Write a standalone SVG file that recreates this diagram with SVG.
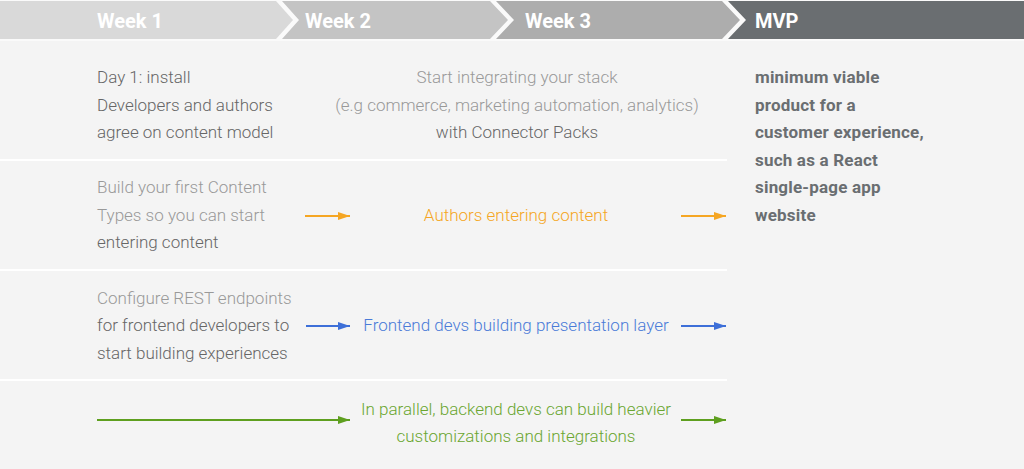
<svg xmlns="http://www.w3.org/2000/svg" width="1024" height="469" viewBox="0 0 1024 469">
<defs>
<style>
.hd{font-family:Roboto,"Liberation Sans",sans-serif;font-size:20px;font-weight:700;fill:#ffffff}
.t{font-family:Roboto,"Liberation Sans",sans-serif;font-size:17px;font-weight:300}
.dk{fill:#666666}
.lt{fill:#999999}
.mid{text-anchor:middle}
.mvp{font-family:Roboto,"Liberation Sans",sans-serif;font-size:17px;font-weight:700;fill:#6a6e71;letter-spacing:0.2px}
.sep{stroke:#ffffff;stroke-width:2}
.or{stroke:#f5a623;stroke-width:2;fill:none}
.bl{stroke:#3d6fd8;stroke-width:2;fill:none}
.gr{stroke:#5e9f1f;stroke-width:2;fill:none}
</style>
<marker id="ao" viewBox="0 0 12 8" refX="12" refY="4" markerWidth="12" markerHeight="8" markerUnits="userSpaceOnUse" orient="auto"><path d="M0,0 L12,4 L0,8 Z" fill="#f5a623"/></marker>
<marker id="ab" viewBox="0 0 12 8" refX="12" refY="4" markerWidth="12" markerHeight="8" markerUnits="userSpaceOnUse" orient="auto"><path d="M0,0 L12,4 L0,8 Z" fill="#3d6fd8"/></marker>
<marker id="ag" viewBox="0 0 12 8" refX="12" refY="4" markerWidth="12" markerHeight="8" markerUnits="userSpaceOnUse" orient="auto"><path d="M0,0 L12,4 L0,8 Z" fill="#5e9f1f"/></marker>
</defs>
<rect x="0" y="0" width="1024" height="469" fill="#f4f4f4"/>
<rect x="0" y="0" width="1024" height="41" fill="#fafafa"/>
<g id="header">
<g id="week1"><polygon points="0,1 276,1 293,20 276,39 0,39" fill="#d9d9d9"/><text class="hd" x="130" y="28" text-anchor="middle">Week 1</text></g>
<g id="week2"><polygon points="282,1 490,1 508,20 490,39 282,39 299,20" fill="#c4c4c4"/><text class="hd" x="305" y="28">Week 2</text></g>
<g id="week3"><polygon points="496,1 722,1 740,20 722,39 496,39 514,20" fill="#adadad"/><text class="hd" x="525" y="28">Week 3</text></g>
<g id="mvp"><polygon points="728,1 1024,1 1024,39 728,39 746,20" fill="#6a6e71"/><text class="hd" x="755" y="28">MVP</text></g>
</g>
<g id="separators">
<line class="sep" x1="0" y1="160" x2="727" y2="160"/>
<line class="sep" x1="0" y1="270" x2="727" y2="270"/>
<line class="sep" x1="0" y1="380" x2="727" y2="380"/>
</g>
<g id="row1-left">
<text class="t dk" x="97" y="83">Day 1: install</text>
<text class="t dk" x="97" y="111">Developers and authors</text>
<text class="t dk" x="97" y="138">agree on content model</text>
</g>
<g id="row1-right">
<text class="t lt mid" x="517" y="83">Start integrating your stack</text>
<text class="t lt mid" x="517" y="111">(e.g commerce, marketing automation, analytics)</text>
<text class="t dk mid" x="517" y="138">with Connector Packs</text>
</g>
<g id="row2-left">
<text class="t lt" x="97" y="193">Build your first Content</text>
<text class="t lt" x="97" y="221">Types so you can start</text>
<text class="t dk" x="97" y="248">entering content</text>
</g>
<g id="row2-right">
<text class="t mid" x="516" y="221" fill="#f5a623">Authors entering content</text>
</g>
<g id="row3-left">
<text class="t lt" x="97" y="304">Configure REST endpoints</text>
<text class="t dk" x="97" y="331">for frontend developers to</text>
<text class="t dk" x="97" y="359">start building experiences</text>
</g>
<g id="row3-right">
<text class="t mid" x="516" y="331" fill="#4a7bd8">Frontend devs building presentation layer</text>
</g>
<g id="row4-right">
<text class="t mid" x="516" y="415" fill="#6aa630">In parallel, backend devs can build heavier</text>
<text class="t mid" x="516" y="442" fill="#6aa630">customizations and integrations</text>
</g>
<g id="mvp-text">
<text class="mvp" x="755" y="83">minimum viable</text>
<text class="mvp" x="755" y="111">product for a</text>
<text class="mvp" x="755" y="138">customer experience,</text>
<text class="mvp" x="755" y="166">such as a React</text>
<text class="mvp" x="755" y="193">single-page app</text>
<text class="mvp" x="755" y="221">website</text>
</g>
<g id="connectors">
<line class="or" x1="305" y1="216" x2="350" y2="216" marker-end="url(#ao)"/>
<line class="or" x1="681" y1="216" x2="726" y2="216" marker-end="url(#ao)"/>
<line class="bl" x1="306" y1="326" x2="350" y2="326" marker-end="url(#ab)"/>
<line class="bl" x1="681" y1="326" x2="726" y2="326" marker-end="url(#ab)"/>
<line class="gr" x1="97" y1="420" x2="350" y2="420" marker-end="url(#ag)"/>
<line class="gr" x1="681" y1="420" x2="726" y2="420" marker-end="url(#ag)"/>
</g>
</svg>
